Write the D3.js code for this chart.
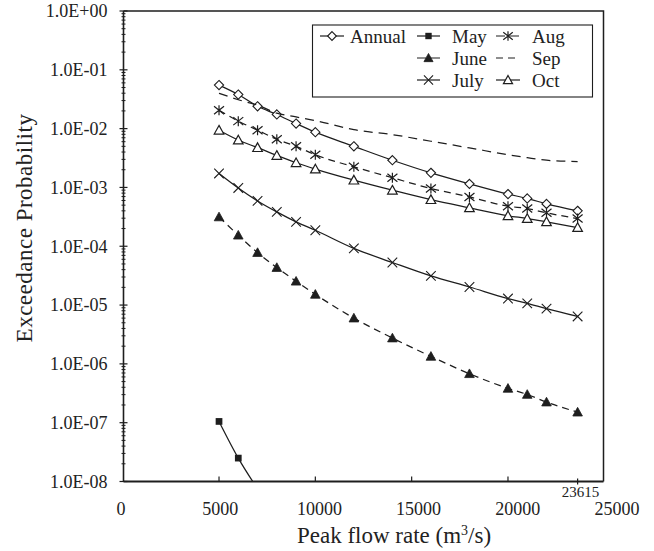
<!DOCTYPE html>
<html>
<head>
<meta charset="utf-8">
<script src="https://cdn.jsdelivr.net/npm/d3@7"></script>
<style>
  html, body { margin: 0; padding: 0; background: #fff; }
  svg { display: block; }
  text { font-family: "Liberation Serif", "Times New Roman", serif; fill: #222; }
</style>
</head>
<body>
<svg id="chart" width="654" height="551"></svg>
<script>
// Peak flow rates (m3/s) at which exceedance probabilities were evaluated
const flows = [5000, 6000, 7000, 8000, 9000, 10000, 12000, 14000, 16000, 18000, 20000, 21000, 22000, 23615];
const mayFlows = [5000, 6000, 7000];

// Exceedance probabilities per period
const annual = [5.5e-2, 3.8e-2, 2.4e-2, 1.74e-2, 1.22e-2, 8.7e-3, 5.0e-3, 2.9e-3, 1.77e-3, 1.15e-3, 7.7e-4, 6.5e-4, 5.25e-4, 4.0e-4];
const may = [1.05e-7, 2.5e-8, 7.5e-9];
const june = [3.15e-4, 1.54e-4, 7.8e-5, 4.34e-5, 2.54e-5, 1.52e-5, 6.0e-6, 2.75e-6, 1.34e-6, 6.8e-7, 3.83e-7, 3.02e-7, 2.24e-7, 1.51e-7];
const july = [1.73e-3, 9.8e-4, 5.9e-4, 3.84e-4, 2.6e-4, 1.87e-4, 9.2e-5, 5.3e-5, 3.13e-5, 2.03e-5, 1.29e-5, 1.07e-5, 8.7e-6, 6.4e-6];
const aug = [2.06e-2, 1.34e-2, 9.4e-3, 6.6e-3, 5.0e-3, 3.6e-3, 2.24e-3, 1.46e-3, 9.6e-4, 6.9e-4, 4.8e-4, 4.37e-4, 3.7e-4, 2.96e-4];
const sep = [4.0e-2, 3.1e-2, 2.5e-2, 1.83e-2, 1.58e-2, 1.37e-2, 9.6e-3, 7.9e-3, 6.1e-3, 4.7e-3, 3.6e-3, 3.2e-3, 2.9e-3, 2.76e-3];
const oct = [9.4e-3, 6.4e-3, 4.75e-3, 3.5e-3, 2.63e-3, 2.05e-3, 1.33e-3, 8.97e-4, 6.2e-4, 4.5e-4, 3.3e-4, 2.96e-4, 2.6e-4, 2.08e-4];

// Axis ticks
const xTicks = [0, 5000, 10000, 15000, 20000, 25000];
const xExtraTick = 23615;
const yTicks = [1, 1e-1, 1e-2, 1e-3, 1e-4, 1e-5, 1e-6, 1e-7, 1e-8];

const svg = d3.select("#chart");
const ink = "#1e1e1e";
const plot = { left: 123.5, right: 603.5, top: 11, bottom: 481.5 };

const x = d3.scaleLinear().domain([0, 25000]).range([plot.left - 0.8, plot.right + 0.8]);
const xLabel = d3.scaleLinear().domain([0, 25000]).range([121, 617]);
const y = d3.scaleLog().domain([1e-8, 1]).range([plot.bottom, plot.top]);

const fmtE = v => {
  const e = Math.round(Math.log10(v));
  return "1.0E" + (e >= 0 ? "+" : "-") + String(Math.abs(e)).padStart(2, "0");
};

// Marker shapes
const markers = {
  diamond: (g, s) => g.append("path").attr("d", `M0,${-s}L${s},0L0,${s}L${-s},0Z`).attr("fill", "#fff").attr("stroke", ink).attr("stroke-width", 1.1),
  square: (g, s) => g.append("rect").attr("x", -s * 0.8).attr("y", -s * 0.8).attr("width", s * 1.6).attr("height", s * 1.6).attr("fill", ink),
  triFill: (g, s) => g.append("path").attr("d", `M0,${-s}L${s},${s * 0.8}L${-s},${s * 0.8}Z`).attr("fill", ink).attr("stroke", ink).attr("stroke-width", 0.8),
  triOpen: (g, s) => g.append("path").attr("d", `M0,${-s}L${s},${s * 0.8}L${-s},${s * 0.8}Z`).attr("fill", "#fff").attr("stroke", ink).attr("stroke-width", 1.2),
  times: (g, s) => g.append("path").attr("d", `M${-s},${-s}L${s},${s}M${-s},${s}L${s},${-s}`).attr("fill", "none").attr("stroke", ink).attr("stroke-width", 1.1),
  star: (g, s) => g.append("path").attr("d", `M${-s},${-s * 0.8}L${s},${s * 0.8}M${-s},${s * 0.8}L${s},${-s * 0.8}M0,${-s}L0,${s}`).attr("fill", "none").attr("stroke", ink).attr("stroke-width", 1.2),
  none: () => {}
};

const series = [
  { name: "Annual", xs: flows, ys: annual, dash: null, marker: "diamond", size: 4.6 },
  { name: "May", xs: mayFlows, ys: may, dash: null, marker: "square", size: 4.2 },
  { name: "June", xs: flows, ys: june, dash: "7,5", marker: "triFill", size: 4.8 },
  { name: "July", xs: flows, ys: july, dash: null, marker: "times", size: 4.8 },
  { name: "Aug", xs: flows, ys: aug, dash: "7,5", marker: "star", size: 5 },
  { name: "Sep", xs: flows, ys: sep, dash: "9,6", marker: "none", size: 0 },
  { name: "Oct", xs: flows, ys: oct, dash: null, marker: "triOpen", size: 4.8 }
];

svg.append("clipPath").attr("id", "plotClip")
  .append("rect").attr("x", plot.left).attr("y", plot.top)
  .attr("width", plot.right - plot.left).attr("height", plot.bottom - plot.top);

const line = d3.line().x(d => x(d[0])).y(d => y(d[1])).curve(d3.curveMonotoneX);

const dataLayer = svg.append("g").attr("clip-path", "url(#plotClip)");
series.forEach(s => {
  const pts = s.xs.map((v, i) => [v, s.ys[i]]);
  dataLayer.append("path").datum(pts)
    .attr("d", line)
    .attr("fill", "none")
    .attr("stroke", ink)
    .attr("stroke-width", 1.25)
    .attr("stroke-dasharray", s.dash);
  pts.forEach(p => {
    const g = dataLayer.append("g").attr("transform", `translate(${x(p[0])},${y(p[1])})`);
    markers[s.marker](g, s.size);
  });
});

// Frame: top and right edges
svg.append("path")
  .attr("d", `M${plot.left},${plot.top}H${plot.right}V${plot.bottom}`)
  .attr("fill", "none").attr("stroke", ink).attr("stroke-width", 1.5);

// Y axis with logarithmic minor ticks
const yAxis = svg.append("g");
yAxis.append("line").attr("x1", plot.left).attr("x2", plot.left)
  .attr("y1", plot.top).attr("y2", plot.bottom).attr("stroke", ink).attr("stroke-width", 1.6);
yTicks.forEach((v, i) => {
  yAxis.append("line").attr("x1", plot.left - 4).attr("x2", plot.left + 4)
    .attr("y1", y(v)).attr("y2", y(v)).attr("stroke", ink).attr("stroke-width", 1.2);
  yAxis.append("text").attr("x", plot.left - 16).attr("y", y(v)).attr("dy", "0.35em")
    .attr("text-anchor", "end").attr("font-size", 18).text(fmtE(v));
  if (i < yTicks.length - 1) {
    for (let m = 2; m <= 9; m++) {
      const mv = yTicks[i + 1] * m;
      yAxis.append("line").attr("x1", plot.left - 2).attr("x2", plot.left + 2)
        .attr("y1", y(mv)).attr("y2", y(mv)).attr("stroke", ink).attr("stroke-width", 1);
    }
  }
});

// X axis with inward ticks
const xAxis = svg.append("g");
xAxis.append("line").attr("x1", plot.left).attr("x2", plot.right)
  .attr("y1", plot.bottom).attr("y2", plot.bottom).attr("stroke", ink).attr("stroke-width", 2.2);
xTicks.forEach(v => {
  if (v > 0 && v < 25000) {
    xAxis.append("line").attr("x1", x(v)).attr("x2", x(v))
      .attr("y1", plot.bottom).attr("y2", plot.bottom - 5).attr("stroke", ink).attr("stroke-width", 1.2);
  }
  xAxis.append("text").attr("x", xLabel(v)).attr("y", 515)
    .attr("text-anchor", "middle").attr("font-size", 18).text(v);
});
xAxis.append("line").attr("x1", x(xExtraTick)).attr("x2", x(xExtraTick))
  .attr("y1", plot.bottom - 3).attr("y2", plot.bottom + 3).attr("stroke", ink).attr("stroke-width", 1.2);
xAxis.append("text").attr("x", x(xExtraTick) + 3).attr("y", 497)
  .attr("text-anchor", "middle").attr("font-size", 15).text(xExtraTick);

// Axis titles
const xTitle = svg.append("text").attr("x", 394).attr("y", 543)
  .attr("text-anchor", "middle").attr("font-size", 23);
xTitle.append("tspan").text("Peak flow rate (m");
xTitle.append("tspan").attr("dy", -8).attr("font-size", 14).text("3");
xTitle.append("tspan").attr("dy", 8).text("/s)");

svg.append("text")
  .attr("transform", "translate(32,228) rotate(-90)")
  .attr("text-anchor", "middle").attr("font-size", 23).attr("letter-spacing", 0.5)
  .text("Exceedance Probability");

// Legend
const legend = svg.append("g");
legend.append("rect").attr("x", 312.5).attr("y", 25).attr("width", 280).attr("height", 72)
  .attr("fill", "#fff").attr("stroke", ink).attr("stroke-width", 1.1);
const legendCols = [{ x0: 320, x1: 344, tx: 350 }, { x0: 417, x1: 440, tx: 452 }, { x0: 496, x1: 520, tx: 532 }];
const legendRows = [36, 58, 80];
const legendSlots = [[0, 0], [1, 0], [1, 1], [1, 2], [2, 0], [2, 1], [2, 2]];
series.forEach((s, i) => {
  const c = legendCols[legendSlots[i][0]], ry = legendRows[legendSlots[i][1]];
  legend.append("line").attr("x1", c.x0).attr("x2", c.x1).attr("y1", ry).attr("y2", ry)
    .attr("stroke", ink).attr("stroke-width", 1.2)
    .attr("stroke-dasharray", s.dash ? (s.marker === "none" ? "7,5" : "9,4,10") : null);
  const g = legend.append("g").attr("transform", `translate(${(c.x0 + c.x1) / 2},${ry})`);
  markers[s.marker](g, s.size * 0.95);
  legend.append("text").attr("x", c.tx).attr("y", ry).attr("dy", "0.35em")
    .attr("font-size", 19).text(s.name);
});
</script>
</body>
</html>
